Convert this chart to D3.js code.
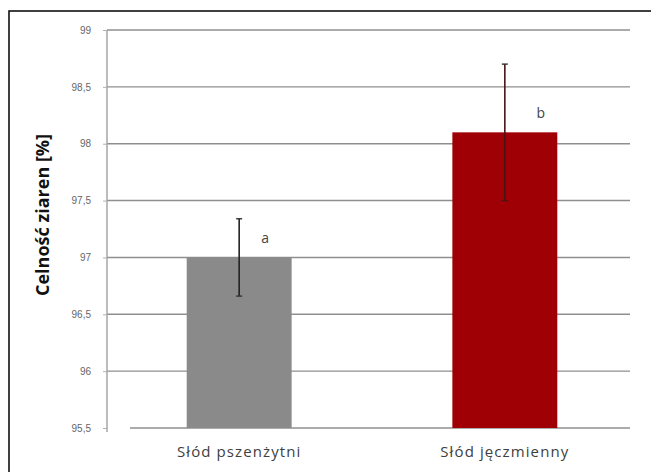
<!DOCTYPE html>
<html>
<head>
<meta charset="utf-8">
<script src="https://cdn.jsdelivr.net/npm/d3@7"></script>
<style>
  html, body { margin: 0; padding: 0; background: #fff; }
  svg { display: block; }
</style>
</head>
<body>
<svg id="chart" width="651" height="472"></svg>
<script>
// Grain plumpness of two malts, mean ± SD, with significance letters
const categories = ["Słód pszenżytni", "Słód jęczmienny"];
const means = [97.0, 98.1];
const errors = [0.34, 0.6];
const letters = ["a", "b"];
const barColors = ["#8a8a8a", "#9e0006"];
const yTicks = [95.5, 96, 96.5, 97, 97.5, 98, 98.5, 99];

const svg = d3.select("#chart");

// frame around the whole figure (runs off the right and bottom edges)
svg.append("rect")
  .attr("x", 9).attr("y", 11)
  .attr("width", 660).attr("height", 480)
  .attr("fill", "#fff")
  .attr("stroke", "#111").attr("stroke-width", 1.6);

const plotLeft = 107, plotRight = 630, plotTop = 30, plotBottom = 428;

const y = d3.scaleLinear().domain([95.5, 99]).range([plotBottom, plotTop]);
const x = d3.scaleBand().domain(categories).range([plotLeft, 637]).paddingInner(0.605).paddingOuter(0.3);

const fmt = v => String(v).replace(".", ",");

// horizontal gridlines
svg.append("g")
  .selectAll("line")
  .data(yTicks)
  .join("line")
  .attr("x1", d => d === 95.5 ? 130 : plotLeft)
  .attr("x2", plotRight)
  .attr("y1", d => y(d)).attr("y2", d => y(d))
  .attr("stroke", "#8f8f8f")
  .attr("stroke-width", 1.4);

// y axis
const yAxis = d3.axisLeft(y).tickValues(yTicks).tickFormat(fmt).tickSize(4).tickPadding(12);
const gy = svg.append("g").attr("transform", `translate(${plotLeft},0)`).call(yAxis);
gy.select(".domain").attr("stroke", "#a0a0a0").attr("stroke-width", 1.4)
  .attr("d", `M0,${plotTop}V${plotBottom + 4}`);
gy.selectAll(".tick line").attr("stroke", "#b0b0b0");
gy.selectAll(".tick text")
  .attr("fill", "#666")
  .style("font-family", "'Liberation Sans', Arial, sans-serif")
  .style("font-size", "10px");

// bars
svg.append("g")
  .selectAll("rect")
  .data(categories)
  .join("rect")
  .attr("x", d => x(d))
  .attr("y", (d, i) => y(means[i]))
  .attr("width", x.bandwidth())
  .attr("height", (d, i) => plotBottom - y(means[i]))
  .attr("fill", (d, i) => barColors[i]);

// error bars
const eg = svg.append("g");
categories.forEach((c, i) => {
  const cx = x(c) + x.bandwidth() / 2;
  const hi = y(means[i] + errors[i]), lo = y(means[i] - errors[i]);
  eg.append("line").attr("x1", cx).attr("x2", cx).attr("y1", hi).attr("y2", lo)
    .attr("stroke", i === 0 ? "#222" : "#4a1414").attr("stroke-width", 1.6);
  eg.append("line").attr("x1", cx - 3).attr("x2", cx + 3).attr("y1", hi).attr("y2", hi)
    .attr("stroke", "#333").attr("stroke-width", 1.4);
  eg.append("line").attr("x1", cx - 3).attr("x2", cx + 3).attr("y1", lo).attr("y2", lo)
    .attr("stroke", i === 0 ? "#333" : "#4a1414").attr("stroke-width", 1.4);
  // significance letter, just above the bar top
  svg.append("text")
    .attr("x", cx + 26 + i * 10)
    .attr("y", y(means[i] + 0.13))
    .attr("text-anchor", "middle")
    .attr("fill", "#444")
    .style("font-family", "'Open Sans', sans-serif")
    .style("font-size", "14px")
    .text(letters[i]);
});

// category labels
svg.append("g")
  .selectAll("text")
  .data(categories)
  .join("text")
  .attr("x", d => x(d) + x.bandwidth() / 2)
  .attr("y", 457)
  .attr("text-anchor", "middle")
  .attr("fill", "#404040")
  .style("font-family", "'Open Sans', sans-serif")
  .style("font-size", "15px")
  .style("letter-spacing", "1.1px")
  .text(d => d);

// y axis title
svg.append("text")
  .attr("transform", "translate(49,215) rotate(-90)")
  .attr("text-anchor", "middle")
  .attr("fill", "#111")
  .style("font-family", "'Open Sans', sans-serif")
  .style("font-weight", "bold")
  .style("font-size", "18px")
  .text("Celność ziaren [%]");
</script>
</body>
</html>
